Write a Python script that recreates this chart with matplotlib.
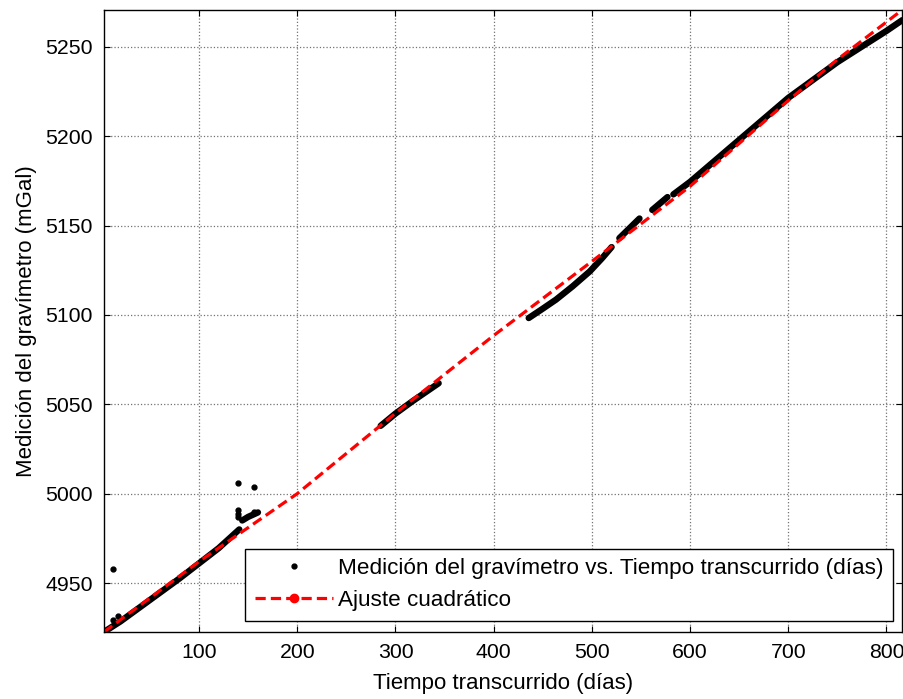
import matplotlib
matplotlib.use('Agg')
import matplotlib.pyplot as plt
from matplotlib.lines import Line2D

plt.rcParams['font.family'] = ['Liberation Sans', 'DejaVu Sans']
plt.rcParams['font.size'] = 16

# gravimeter readings, one list per recording campaign (day, mGal)
seg_a_days = [3.2, 20, 40, 60, 80, 100, 120, 141]
seg_a_vals = [4922.6, 4928.5, 4936.5, 4944.5, 4952.5, 4961, 4969.5, 4980]
seg_b_days = [144, 150, 160]
seg_b_vals = [4985, 4987, 4989.5]
seg_c_days = [285, 300, 318, 344]
seg_c_vals = [5038, 5044.8, 5052, 5061.8]
seg_d_days = [435.7, 449.9, 463.5, 480.3, 497.9, 510.6, 520.1]
seg_d_vals = [5098.3, 5103.5, 5108.6, 5116, 5124.4, 5131.9, 5138]
seg_e_days = [528, 548.5]
seg_e_vals = [5143, 5154]
seg_f_days = [561.5, 577]
seg_f_vals = [5158.8, 5166]
seg_g_days = [583, 600, 650, 700, 750, 800, 816]
seg_g_vals = [5167.5, 5174.5, 5198, 5221.5, 5241.5, 5259, 5265]

# isolated spikes
out_days = [12.5, 17.2, 12.5, 139.5, 139.5, 139.5, 139.5, 155.6, 156]
out_vals = [4957.7, 4931.8, 4929.4, 5005.9, 4991, 4988.8, 4986.8, 5004, 4990]

# quadratic fit curve
fit_days = [3.2, 100, 200, 300, 400, 500, 600, 700, 750, 800, 816]
fit_vals = [4922.6, 4962, 5000, 5045, 5088.5, 5130, 5172, 5220, 5243, 5264, 5270.7]

segments = [(seg_a_days, seg_a_vals), (seg_b_days, seg_b_vals), (seg_c_days, seg_c_vals),
            (seg_d_days, seg_d_vals), (seg_e_days, seg_e_vals), (seg_f_days, seg_f_vals),
            (seg_g_days, seg_g_vals)]

x_ticks = [100, 200, 300, 400, 500, 600, 700, 800]
y_ticks = [4950, 5000, 5050, 5100, 5150, 5200, 5250]

fig = plt.figure(figsize=(9.04, 6.99), dpi=100)
ax = fig.add_axes([0.115, 0.0959, 0.883, 0.8898])

for days, vals in segments:
    ax.plot(days, vals, c='k', lw=4.6, solid_capstyle='round', solid_joinstyle='round')
ax.plot(out_days, out_vals, 'k.', ms=7)

ax.plot(fit_days, fit_vals, c='#ff0000', ls='--', lw=2.3, dashes=(3.2, 1.6))

ax.set_xlim(3.2, 816)
ax.set_ylim(4922.6, 5270.7)
ax.set_xticks(x_ticks)
ax.set_yticks(y_ticks)
ax.grid(True, color='0.45', ls=':', lw=0.9)
ax.tick_params(direction='in', length=4, width=0.8, top=True, right=True, pad=8, labelsize=15.3)
for s in ax.spines.values():
    s.set_linewidth(1.0)

ax.set_xlabel('Tiempo transcurrido (días)', labelpad=8)
ax.set_ylabel('Medición del gravímetro (mGal)', labelpad=6)

handles = [Line2D([], [], c='k', marker='.', ls='None', ms=7),
           Line2D([], [], c='#ff0000', ls='--', lw=2.3, dashes=(3.2, 1.6), marker='o', ms=6)]
labels = ['Medición del gravímetro vs. Tiempo transcurrido (días)', 'Ajuste cuadrático']
leg = ax.legend(handles, labels, loc='lower right', bbox_to_anchor=(0.9887, 0.0177),
                borderaxespad=0, fancybox=False, framealpha=1, edgecolor='k', fontsize=16.2,
                handlelength=3.5, handletextpad=0.2, labelspacing=0.49, borderpad=0.43)
leg.get_frame().set_linewidth(1.0)

fig.savefig('out.png', dpi=100)
